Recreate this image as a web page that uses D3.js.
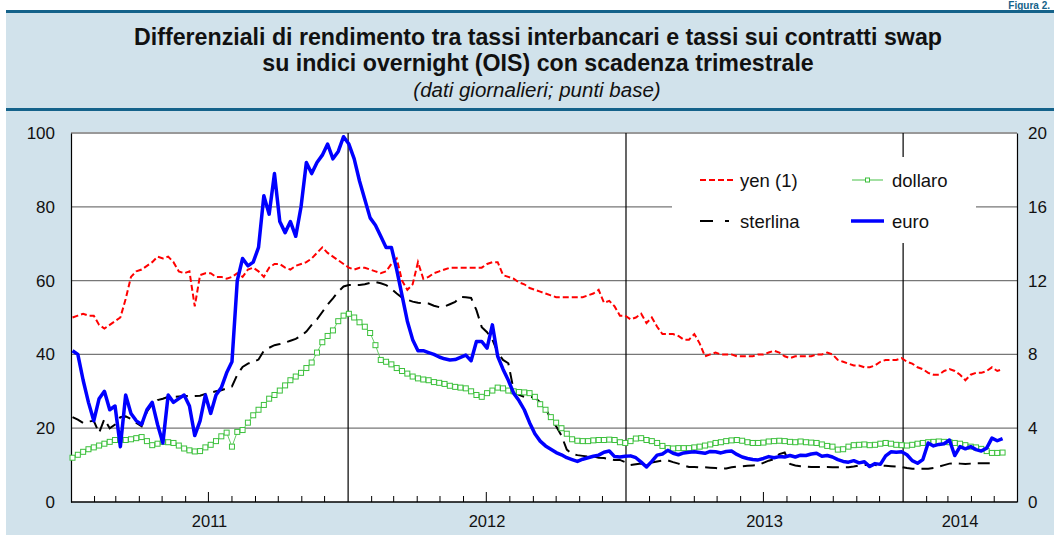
<!DOCTYPE html>
<html>
<head>
<meta charset="utf-8">
<script src="https://cdn.jsdelivr.net/npm/d3@7"></script>
<style>
  body { margin: 0; background: #fff; }
  svg { display: block; font-family: "Liberation Sans", Arial, Helvetica, sans-serif; }
</style>
</head>
<body>
<div id="chart"></div>
<script>
var svgWidth = 1054;
var svgHeight = 535;

// weekly observations, starting Monday 3 Jan 2011
var startDate = new Date(2011, 0, 3);

// euro, dollaro, sterlina: left scale (basis points)
var euro = [41,40,33,27,22,28,30,25,26,15,29,24,22,21,25,27,21,16,29,27,
  28,29,26,18,22,29,24,29,31,35,38,60,66,64,65,69,83,78,89,76,
  73,76,72,80,92,89,92,94,97,93,95,99,97,93,87,82,77,75,72,69,
  69,63,56,49,44,41,41,40.5,40,39.3,38.8,38.5,38.6,39.2,39.8,38.3,43.5,43.5,41.7,48,
  39.5,36,33,29.5,27.5,25,21.5,18.5,16.5,15.2,14.3,13.4,12.8,12,11.5,11,11.6,12,12.4,12.7,
  13.5,13.8,12.3,12.2,12.4,12.5,12,10.8,9.5,11,12.7,13,14,13.2,12.8,13.3,13.5,13.6,13.4,13.2,
  13.7,13.6,13.3,13.7,13.8,12.9,12.2,11.8,11.5,11.4,11.8,12.3,12,12.3,12.2,12.6,12.2,12.7,12.6,13,
  13.2,12.4,12.6,12.2,11.5,11,10.8,11.2,10.6,10.9,9.6,10.4,10.2,12.5,13.6,13.5,13.6,12.8,11.2,10.5,
  11.5,16,15.2,15.6,15.8,16.8,12.6,15,14.4,15,14.2,13.8,14.6,17.3,16.6,17.2];

var dollaro = [12,12.8,13.6,14.3,14.8,15.3,15.8,16.3,16.8,16.9,16.8,17,17.3,17.6,16.5,15.4,15.8,16.3,16.2,16,
  15.3,14.5,14,13.7,13.8,14.8,15.5,16.5,17.8,18.8,15,19,19.5,21.5,23.5,25,26.3,28,29,30.2,
  31.6,33,34,35,36.3,37.8,40.5,43.3,45,46.5,49,50.5,51,50,48.7,47.5,45.8,42.5,38.5,38,
  37.3,36.3,35.5,34.8,34,33.5,33.2,33,32.5,32.3,32,31.5,31.2,31,30.8,30,29,28.5,29.5,30.2,
  31,30.8,30.2,30,29.8,29.7,29.5,28.5,26.5,25,23,21.5,20,18.5,17,16.6,16.5,16.5,16.7,16.8,
  16.8,16.9,16.8,16.2,16,16.5,17.2,17.3,16.8,16.5,16,15.2,14.6,14.5,14.6,14.6,14.6,14.8,15,15.3,
  15.6,16,16.2,16.5,16.7,16.8,16.6,16.2,16,16,16.1,16.4,16.5,16.6,16.5,16.3,16.2,16.4,16.2,16.1,
  16,15.6,15.2,15,14.2,14.3,15,15.4,15.5,15.6,15.4,15.5,15.8,16,15.8,15.5,15.4,15.3,15.5,15.8,
  16,16.2,16.3,16.4,16.3,16.2,16,15.8,15.4,15,14.8,14.4,13.8,13.3,13.3,13.4];

var sterlina = [23,22.3,21.4,21.8,22,18.7,22.5,20,21,23,23.2,22.5,21.4,20.5,24.5,26.5,27.6,28,28.5,28.5,
  28.6,28.7,28.7,28.7,28.8,29.3,29.6,30,30.3,30.8,31.3,34.5,36.6,37.5,38,38.6,41,41.8,42.5,42.8,
  43.2,43.7,44.2,45,46.2,48,49.5,51.5,53.5,55.2,57,58.4,58.8,58.8,58.8,59,59.4,59.6,59.3,58.8,
  57.8,56.5,55.4,54.8,54.3,54,53.9,53.8,53.2,52.8,53,53.6,54.2,55.6,55.5,55.3,52,47.4,46,44,
  40.5,38.5,37.6,30.3,29,28.5,28.5,28.3,27,25.4,22.5,20.5,18,14.2,13,12.7,12.5,12.3,12.4,12,
  11.9,11.6,11.4,11.4,10.8,10,10.2,10.4,10.3,10.7,11,11.2,11.3,10.8,10.4,9.9,9.5,9.5,9.4,9.4,
  9.3,9.2,9,9.1,9.4,9.6,9.7,9.8,9.9,10,10.6,11.2,11.6,13,13.4,10.3,9.9,9.7,9.6,9.5,
  9.5,9.5,9.5,9.4,9.4,9.4,9.4,9.6,9.9,10,10,10,9.9,9.8,9.7,9.6,9.5,9.2,9,9,
  9,9,9.2,9.6,10,10.4,10.5,10.4,10.3,10.4,10.5,10.5,10.5,10.5];

// yen (1): right scale
var yen = [10,10.1,10.2,10.1,10.1,9.6,9.4,9.6,9.8,10,11,12.2,12.5,12.6,12.8,13,13.3,13.2,13.3,13,
  12.5,12.4,12.5,10.6,12.3,12.4,12.4,12.2,12.2,12.1,12.2,12.4,12.2,12.6,12.7,12.5,12.2,12.7,12.9,12.9,
  12.7,12.6,12.8,12.9,13,13.2,13.5,13.8,13.5,13.3,13.1,12.9,12.7,12.6,12.7,12.7,12.6,12.5,12.4,12.5,
  12.9,13.2,12,11.5,11.8,13,12.1,12.2,12.4,12.5,12.6,12.7,12.7,12.7,12.7,12.7,12.7,12.7,12.9,13,
  13,12.3,12.2,12.1,11.9,11.8,11.6,11.5,11.4,11.3,11.2,11.1,11.1,11.1,11.1,11.1,11.1,11.2,11.3,11.5,
  10.8,10.9,10.6,10.1,10.1,9.9,10,10.2,9.7,10,9.5,9.1,9.1,9.1,9,8.8,8.8,9.1,8.6,7.9,
  8,8.1,8,8,8,7.9,7.9,7.9,7.9,8,8,8.1,8.2,8.1,7.9,7.8,7.9,7.9,7.9,7.9,
  8,8,8.1,8,7.7,7.6,7.5,7.4,7.4,7.3,7.3,7.4,7.6,7.7,7.7,7.7,7.8,7.6,7.5,7.3,
  7.2,7,6.9,6.9,7.1,7.2,7.1,6.9,6.6,6.9,7,7,7.1,7.3,7.1,7.2];

var leftTicks = [0, 20, 40, 60, 80, 100];
var rightTicks = [0, 4, 8, 12, 16, 20];
var yearLabels = ["2011", "2012", "2013", "2014"];

var titleLines = ["Differenziali di rendimento tra tassi interbancari e tassi sui contratti swap",
  "su indici overnight (OIS) con scadenza trimestrale"];
var subtitle = "(dati giornalieri; punti base)";

var plot = { left: 71, right: 1017, top: 133, bottom: 502 };

var svg = d3.select("#chart")
  .append("svg")
  .attr("width", svgWidth)
  .attr("height", svgHeight);

// panel background and header rules
svg.append("rect")
  .attr("x", 6).attr("y", 12)
  .attr("width", svgWidth - 6).attr("height", svgHeight - 12)
  .attr("fill", "#d1e2eb");
svg.append("rect").attr("x", 6).attr("y", 10).attr("width", svgWidth - 6).attr("height", 3).attr("fill", "#14628a");
svg.append("rect").attr("x", 6).attr("y", 108).attr("width", svgWidth - 6).attr("height", 3).attr("fill", "#14628a");

svg.append("text")
  .attr("x", 1050).attr("y", 9)
  .attr("text-anchor", "end")
  .attr("font-size", 10).attr("font-weight", "bold")
  .attr("fill", "#14628a")
  .text("Figura 2.");

svg.selectAll(".title")
  .data(titleLines)
  .enter()
  .append("text")
  .attr("class", "title")
  .attr("x", 538)
  .attr("y", (d, i) => 45 + i * 26)
  .attr("text-anchor", "middle")
  .attr("font-size", 23.2)
  .attr("font-weight", "bold")
  .attr("fill", "#111")
  .text(d => d);

svg.append("text")
  .attr("x", 537).attr("y", 97)
  .attr("text-anchor", "middle")
  .attr("font-size", 20.5)
  .attr("font-style", "italic")
  .attr("fill", "#111")
  .text(subtitle);

// scales
var x = d3.scaleTime()
  .domain([new Date(2011, 0, 1), new Date(2014, 4, 31)])
  .range([plot.left, plot.right]);
var yLeft = d3.scaleLinear().domain([0, 100]).range([plot.bottom, plot.top]);
var yRight = d3.scaleLinear().domain([0, 20]).range([plot.bottom, plot.top]);

var dates = d3.range(euro.length).map(i => d3.timeDay.offset(startDate, i * 7));

svg.append("rect")
  .attr("x", plot.left).attr("y", plot.top)
  .attr("width", plot.right - plot.left).attr("height", plot.bottom - plot.top)
  .attr("fill", "#fff");

// horizontal grid
svg.append("g")
  .selectAll("line")
  .data(leftTicks.filter(d => d > 0 && d < 100))
  .enter()
  .append("line")
  .attr("x1", plot.left).attr("x2", plot.right)
  .attr("y1", d => yLeft(d)).attr("y2", d => yLeft(d))
  .attr("stroke", "#777").attr("stroke-width", 1.2);

svg.append("line")
  .attr("x1", plot.left).attr("x2", plot.right)
  .attr("y1", plot.top).attr("y2", plot.top)
  .attr("stroke", "#999").attr("stroke-width", 2);

// year separators
var yearStarts = [new Date(2012, 0, 1), new Date(2013, 0, 1), new Date(2014, 0, 1)];
svg.append("g")
  .selectAll("line")
  .data(yearStarts)
  .enter()
  .append("line")
  .attr("x1", d => x(d)).attr("x2", d => x(d))
  .attr("y1", plot.top).attr("y2", plot.bottom)
  .attr("stroke", "#000").attr("stroke-width", 1.2);

// month ticks along the bottom
var months = d3.timeMonth.range(new Date(2011, 1, 1), new Date(2014, 5, 1))
  .filter(d => d.getMonth() !== 0);
svg.append("g")
  .selectAll("line")
  .data(months)
  .enter()
  .append("line")
  .attr("x1", d => x(d)).attr("x2", d => x(d))
  .attr("y1", plot.bottom)
  .attr("y2", d => plot.bottom - (d.getMonth() === 6 ? 10 : 6))
  .attr("stroke", "#000").attr("stroke-width", 1);

// axes
var leftAxis = d3.axisLeft(yLeft).tickValues(leftTicks).tickSize(0).tickPadding(16);
var rightAxis = d3.axisRight(yRight).tickValues(rightTicks).tickSize(0).tickPadding(11);

var gl = svg.append("g").attr("transform", `translate(${plot.left},0)`).call(leftAxis);
var gr = svg.append("g").attr("transform", `translate(${plot.right},0)`).call(rightAxis);
[gl, gr].forEach(function(g) {
  g.select(".domain").attr("stroke", "#000").attr("stroke-width", 1.2);
  g.selectAll("text").attr("font-size", 17).attr("fill", "#111")
    .attr("font-family", "Liberation Sans, Arial, sans-serif");
});

svg.append("line")
  .attr("x1", plot.left).attr("x2", plot.right)
  .attr("y1", plot.bottom).attr("y2", plot.bottom)
  .attr("stroke", "#000").attr("stroke-width", 1.5);

svg.append("g")
  .selectAll("text")
  .data(yearLabels)
  .enter()
  .append("text")
  .attr("x", function(d) {
    var y0 = +d;
    var a = x(new Date(y0, 0, 1));
    var b = y0 === 2014 ? plot.right : x(new Date(y0 + 1, 0, 1));
    return (a + b) / 2;
  })
  .attr("y", 527)
  .attr("text-anchor", "middle")
  .attr("font-size", 16.5)
  .attr("fill", "#111")
  .text(d => d);

// series
var lineLeft = d3.line()
  .defined(d => d[1] != null)
  .x(d => x(d[0]))
  .y(d => yLeft(d[1]));
var lineRight = d3.line()
  .defined(d => d[1] != null)
  .x(d => x(d[0]))
  .y(d => yRight(d[1]));

var pairs = arr => arr.map((v, i) => [dates[i], v]);

var chartGroup = svg.append("g");

chartGroup.append("path")
  .datum(pairs(yen))
  .attr("d", lineRight)
  .attr("fill", "none")
  .attr("stroke", "#ff0000")
  .attr("stroke-width", 2)
  .attr("stroke-dasharray", "6,3");

chartGroup.append("path")
  .datum(pairs(sterlina))
  .attr("d", lineLeft)
  .attr("fill", "none")
  .attr("stroke", "#000")
  .attr("stroke-width", 2)
  .attr("stroke-dasharray", "12,7");

chartGroup.append("path")
  .datum(pairs(dollaro))
  .attr("d", lineLeft)
  .attr("fill", "none")
  .attr("stroke", "#66cc66")
  .attr("stroke-width", 1);

chartGroup.selectAll(".dmark")
  .data(pairs(dollaro))
  .enter()
  .append("rect")
  .attr("class", "dmark")
  .attr("x", d => x(d[0]) - 2.5)
  .attr("y", d => yLeft(d[1]) - 2.5)
  .attr("width", 5).attr("height", 5)
  .attr("fill", "#fff")
  .attr("stroke", "#3cc03c")
  .attr("stroke-width", 1);

chartGroup.append("path")
  .datum(pairs(euro))
  .attr("d", lineLeft)
  .attr("fill", "none")
  .attr("stroke", "#0000ff")
  .attr("stroke-width", 3.5)
  .attr("stroke-linejoin", "round");

// legend
var legend = svg.append("g");
legend.append("rect")
  .attr("x", 672).attr("y", 157)
  .attr("width", 304).attr("height", 86)
  .attr("fill", "#fff");

var legendItems = [
  { name: "yen (1)", col: 0, row: 0 },
  { name: "dollaro", col: 1, row: 0 },
  { name: "sterlina", col: 0, row: 1 },
  { name: "euro", col: 1, row: 1 }
];
legendItems.forEach(function(it) {
  var lx = 700 + it.col * 152;
  var ly = 180 + it.row * 41;
  var g = legend.append("g");
  if (it.name === "yen (1)") {
    g.append("line").attr("x1", lx).attr("x2", lx + 33).attr("y1", ly).attr("y2", ly)
      .attr("stroke", "#ff0000").attr("stroke-width", 2).attr("stroke-dasharray", "6,3");
  } else if (it.name === "sterlina") {
    g.append("line").attr("x1", lx).attr("x2", lx + 33).attr("y1", ly).attr("y2", ly)
      .attr("stroke", "#000").attr("stroke-width", 2).attr("stroke-dasharray", "13,12,4,20");
  } else if (it.name === "dollaro") {
    g.append("line").attr("x1", lx).attr("x2", lx + 31).attr("y1", ly).attr("y2", ly)
      .attr("stroke", "#66cc66").attr("stroke-width", 1.2);
    g.append("rect").attr("x", lx + 13.5).attr("y", ly - 2).attr("width", 4).attr("height", 4)
      .attr("fill", "#fff").attr("stroke", "#3cc03c").attr("stroke-width", 1);
  } else {
    g.append("line").attr("x1", lx - 1).attr("x2", lx + 32).attr("y1", ly).attr("y2", ly)
      .attr("stroke", "#0000ff").attr("stroke-width", 3.5);
  }
  g.append("text")
    .attr("x", lx + 40).attr("y", ly + 7)
    .attr("font-size", 18.5)
    .attr("fill", "#111")
    .text(it.name);
});
</script>
</body>
</html>
